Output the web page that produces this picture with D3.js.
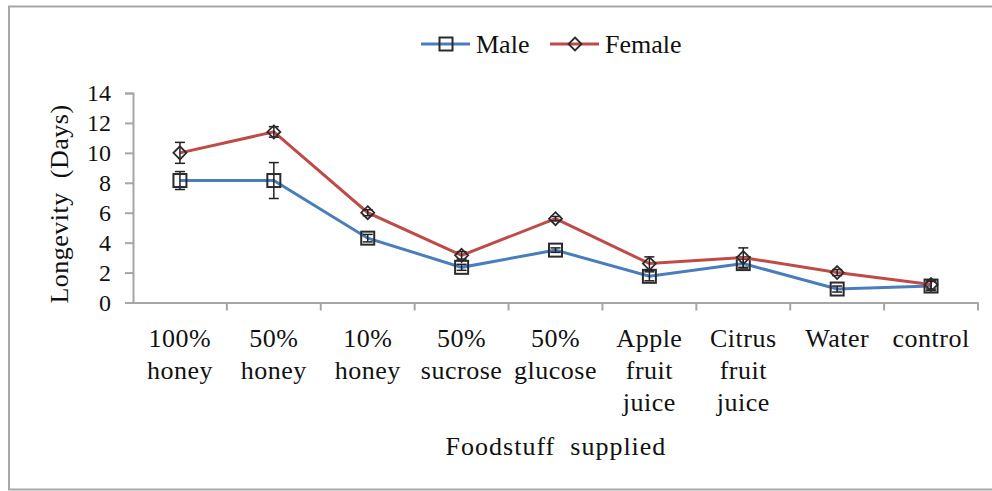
<!DOCTYPE html>
<html>
<head>
<meta charset="utf-8">
<script src="https://cdn.jsdelivr.net/npm/d3@7"></script>
<style>
	body { margin: 0; background: #fff; }
</style>
</head>
<body>
<script>
'use strict';

var categories = ['100% honey', '50% honey', '10% honey', '50% sucrose', '50% glucose',
	'Apple fruit juice', 'Citrus fruit juice', 'Water', 'control'];
var maleValues = [8.15, 8.15, 4.3, 2.35, 3.5, 1.75, 2.6, 0.9, 1.1];
var maleErrors = [0.6, 1.2, 0.25, 0.2, 0.15, 0.3, 0.3, 0.2, 0.3];
var femaleValues = [10.0, 11.4, 6.0, 3.15, 5.6, 2.6, 3.0, 2.0, 1.2];
var femaleErrors = [0.7, 0.35, 0.2, 0.25, 0.15, 0.45, 0.65, 0.2, 0.3];
var yTicks = [0, 2, 4, 6, 8, 10, 12, 14];

var FONT = '"Liberation Serif", "Times New Roman", serif';
var W = 992, H = 491;
var svg = d3.select('body').append('svg').attr('width', W).attr('height', H);

// outer frame
svg.append('rect')
	.attr('x', 9).attr('y', 6.5)
	.attr('width', 1000).attr('height', 483)
	.attr('fill', 'none').attr('stroke', '#a6a6a6').attr('stroke-width', 2);

var x = d3.scaleBand().domain(categories).range([133, 978]);
var y = d3.scaleLinear().domain([0, 14]).range([302.5, 93]);

// y axis
var yAxis = svg.append('g').attr('transform', 'translate(133,0)')
	.call(d3.axisLeft(y).tickValues(yTicks).tickSize(8).tickPadding(14));
yAxis.attr('font-family', null).attr('font-size', null);
yAxis.select('.domain').attr('stroke', '#a6a6a6').attr('stroke-width', 2);
yAxis.selectAll('.tick line').attr('stroke', '#a6a6a6').attr('stroke-width', 2);
yAxis.selectAll('.tick text')
	.style('font-family', FONT).style('font-size', '24px').style('fill', '#111');

// x axis
var xAxis = svg.append('g').attr('transform', 'translate(0,302.5)')
	.call(d3.axisBottom(x).tickSize(0).tickFormat(''));
xAxis.select('.domain').attr('stroke', '#a6a6a6').attr('stroke-width', 2);
// band boundary ticks
var bounds = categories.map(function(c) { return x(c) + x.bandwidth(); });
xAxis.selectAll('line.bnd').data(bounds).enter().append('line')
	.attr('class', 'bnd')
	.attr('x1', d => d).attr('x2', d => d)
	.attr('y1', 0).attr('y2', 8)
	.attr('stroke', '#a6a6a6').attr('stroke-width', 2);

// category labels, split on spaces
var labels = svg.append('g').selectAll('text').data(categories).enter().append('text')
	.attr('x', d => x(d) + x.bandwidth() / 2)
	.attr('y', 347)
	.attr('text-anchor', 'middle')
	.style('font-family', FONT)
	.style('font-size', '26px')
	.style('letter-spacing', '0.5px')
	.style('fill', '#111');
labels.each(function(d) {
	var t = d3.select(this);
	var cx = x(d) + x.bandwidth() / 2;
	d.split(' ').forEach(function(w, i) {
		t.append('tspan').attr('x', cx).attr('dy', i === 0 ? 0 : 32).text(w);
	});
});

// axis titles
svg.append('text')
	.attr('x', 556).attr('y', 455)
	.attr('text-anchor', 'middle')
	.style('font-family', FONT)
	.style('font-size', '26px')
	.style('letter-spacing', '1px')
	.style('white-space', 'pre')
	.style('fill', '#111')
	.text('Foodstuff  supplied');
svg.append('text')
	.attr('transform', 'translate(68,204) rotate(-90)')
	.attr('text-anchor', 'middle')
	.style('font-family', FONT)
	.style('font-size', '26px')
	.style('letter-spacing', '0.5px')
	.style('white-space', 'pre')
	.style('fill', '#111')
	.text('Longevity  (Days)');

var series = [
	{ name: 'Male', values: maleValues, errors: maleErrors, color: '#4a7ebb', marker: 'square' },
	{ name: 'Female', values: femaleValues, errors: femaleErrors, color: '#be4b48', marker: 'diamond' }
];

function drawMarker(g, type, cx, cy) {
	if (type === 'square') {
		g.append('rect')
			.attr('x', cx - 6.5).attr('y', cy - 6.5)
			.attr('width', 13).attr('height', 13)
			.attr('fill', 'none').attr('stroke', '#2b2b2b').attr('stroke-width', 2);
	} else {
		g.append('path')
			.attr('d', 'M' + cx + ',' + (cy - 6.5) + 'L' + (cx + 6.5) + ',' + cy +
				'L' + cx + ',' + (cy + 6.5) + 'L' + (cx - 6.5) + ',' + cy + 'Z')
			.attr('fill', 'none').attr('stroke', '#2b2b2b').attr('stroke-width', 1.8);
	}
}

var line = d3.line()
	.x((d, i) => x(categories[i]) + x.bandwidth() / 2)
	.y(d => y(d));

series.forEach(function(s) {
	var g = svg.append('g');
	g.append('path')
		.attr('d', line(s.values))
		.attr('fill', 'none')
		.attr('stroke', s.color)
		.attr('stroke-width', 3);
	s.values.forEach(function(v, i) {
		var cx = x(categories[i]) + x.bandwidth() / 2;
		var top = y(v + s.errors[i]), bot = y(v - s.errors[i]);
		g.append('line').attr('x1', cx).attr('x2', cx).attr('y1', top).attr('y2', bot)
			.attr('stroke', '#222').attr('stroke-width', 1.5);
		[top, bot].forEach(function(yy) {
			g.append('line').attr('x1', cx - 5).attr('x2', cx + 5).attr('y1', yy).attr('y2', yy)
				.attr('stroke', '#222').attr('stroke-width', 1.5);
		});
		drawMarker(g, s.marker, cx, y(v));
	});
});

// legend
var legendX = [421, 550];
series.forEach(function(s, i) {
	var g = svg.append('g');
	var lx = legendX[i];
	g.append('line').attr('x1', lx).attr('x2', lx + 49).attr('y1', 44).attr('y2', 44)
		.attr('stroke', s.color).attr('stroke-width', 3);
	drawMarker(g, s.marker, lx + 25, 44);
	g.append('text').attr('x', lx + 55).attr('y', 53)
		.style('font-family', FONT)
		.style('font-size', '26px')
		.style('fill', '#111')
		.text(s.name);
});
</script>
</body>
</html>
